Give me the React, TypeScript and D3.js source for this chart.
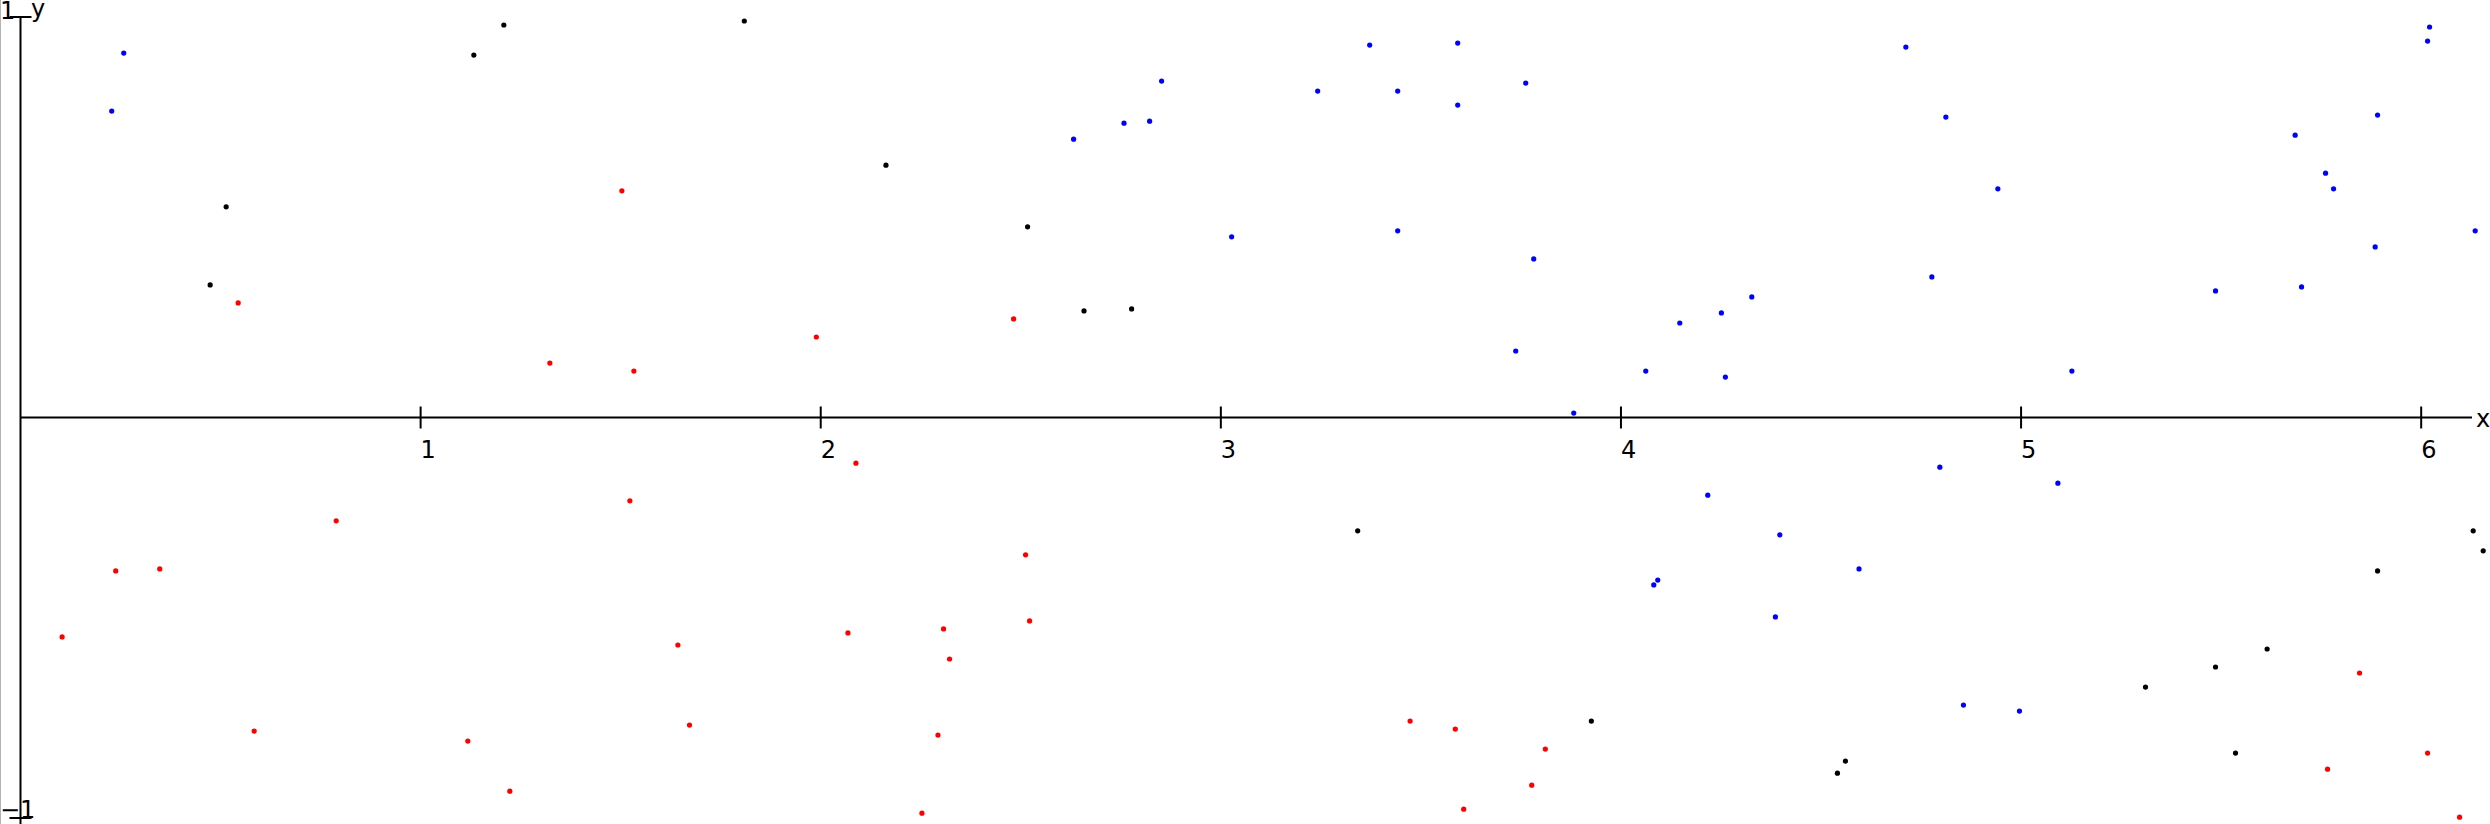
import React from "react";
import * as d3 from "d3";

const W = 2490;
const H = 824;

const xTicks = [1, 2, 3, 4, 5, 6];
const yTicks = [-1, 1];

const blackX = [1.208, 1.133, 1.809, 0.514, 0.474, 2.163, 2.517, 2.658, 2.777, 3.342, 3.926, 4.561, 4.541, 5.311, 5.486, 5.615, 5.536, 5.891, 6.13, 6.155];
const blackY = [0.98, 0.905, 0.99, 0.526, 0.331, 0.63, 0.476, 0.266, 0.271, -0.283, -0.758, -0.858, -0.888, -0.673, -0.623, -0.578, -0.838, -0.383, -0.283, -0.333];

const redX = [1.503, 0.544, 1.323, 1.533, 1.989, 2.482, 0.104, 0.238, 0.348, 0.789, 1.523, 1.643, 1.672, 0.584, 1.118, 1.223, 2.088, 2.068, 2.512, 2.522, 2.307, 2.322, 2.293, 2.253, 3.473, 3.586, 3.811, 3.777, 3.607, 5.846, 5.766, 6.016, 6.096];
const redY = [0.566, 0.286, 0.136, 0.116, 0.201, 0.246, -0.548, -0.383, -0.378, -0.258, -0.208, -0.568, -0.768, -0.783, -0.808, -0.933, -0.114, -0.538, -0.343, -0.508, -0.528, -0.603, -0.793, -0.988, -0.758, -0.778, -0.828, -0.918, -0.978, -0.638, -0.878, -0.838, -0.998];

const blueX = [0.258, 0.228, 3.372, 3.592, 2.852, 3.242, 3.442, 3.762, 3.592, 2.758, 2.822, 2.632, 3.027, 3.442, 3.782, 3.737, 4.062, 3.882, 6.021, 6.016, 4.712, 4.812, 5.891, 5.685, 5.761, 5.781, 4.942, 6.135, 5.885, 4.777, 5.486, 5.701, 4.327, 4.251, 4.147, 4.261, 5.127, 4.082, 4.092, 4.217, 4.797, 5.092, 4.397, 4.595, 4.386, 4.856, 4.996];
const blueY = [0.91, 0.765, 0.93, 0.935, 0.84, 0.815, 0.815, 0.835, 0.78, 0.735, 0.74, 0.695, 0.451, 0.466, 0.396, 0.166, 0.116, 0.011, 0.975, 0.94, 0.925, 0.75, 0.755, 0.705, 0.61, 0.571, 0.571, 0.466, 0.426, 0.351, 0.316, 0.326, 0.301, 0.261, 0.236, 0.101, 0.116, -0.418, -0.406, -0.194, -0.124, -0.164, -0.293, -0.378, -0.498, -0.718, -0.733];

const series = [
  { name: "black", color: "#000000", xs: blackX, ys: blackY },
  { name: "red", color: "#ff0000", xs: redX, ys: redY },
  { name: "blue", color: "#0000ff", xs: blueX, ys: blueY },
];

export default function App() {
  const x = d3.scaleLinear().domain([0, 6.127]).range([20.5, 2472]);
  const y = d3.scaleLinear().domain([-1.015, 1]).range([824, 17]);
  const x0 = x(0);
  const y0 = y(0);
  const font = "'DejaVu Sans', sans-serif";
  const fs = 24;
  const fmt = d3.format("d");

  return (
    <svg
      width={W}
      height={H}
      style={{ position: "absolute", left: 0, top: 0, background: "#fff" }}
      xmlns="http://www.w3.org/2000/svg"
    >
      <line x1={0.5} y1={0} x2={0.5} y2={H} stroke="#b4b4b4" strokeWidth={1} />
      {/* x axis */}
      <line x1={x0} y1={y0} x2={x(6.127)} y2={y0} stroke="#000" strokeWidth={2} />
      {xTicks.map((t) => (
        <g key={"xt" + t}>
          <line x1={x(t)} x2={x(t)} y1={y0 - 11} y2={y0 + 11} stroke="#000" strokeWidth={2} />
          <text x={x(t)} y={y0 + 41} fontFamily={font} fontSize={fs} fill="#000">
            {fmt(t)}
          </text>
        </g>
      ))}
      <text x={2476} y={y0 + 10} fontFamily={font} fontSize={fs} fill="#000">x</text>
      {/* y axis */}
      <line x1={x0} y1={y(1)} x2={x0} y2={H} stroke="#000" strokeWidth={2} />
      {yTicks.map((t) => (
        <g key={"yt" + t}>
          <line x1={x0 - 11} x2={x0 + 11} y1={y(t)} y2={y(t)} stroke="#000" strokeWidth={2} />
          <text x={0} y={t > 0 ? y(t) + 2 : y(t)} fontFamily={font} fontSize={fs} fill="#000">
            {fmt(t)}
          </text>
        </g>
      ))}
      <text x={31} y={17} fontFamily={font} fontSize={fs} fill="#000">y</text>
      {series.map((s) =>
        s.xs.map((vx, i) => (
          <circle key={s.name + i} cx={x(vx)} cy={y(s.ys[i])} r={2.6} fill={s.color} />
        ))
      )}
    </svg>
  );
}
